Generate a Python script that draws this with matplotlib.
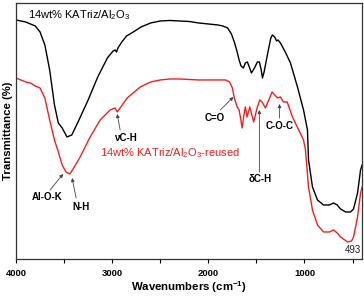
import matplotlib
matplotlib.use("Agg")
import matplotlib.pyplot as plt
from matplotlib.ticker import MultipleLocator, NullLocator

plt.rcParams['font.family'] = ['Liberation Sans', 'DejaVu Sans']
plt.rcParams['mathtext.fontset'] = 'custom'
plt.rcParams['mathtext.rm'] = 'Liberation Sans'
plt.rcParams['mathtext.it'] = 'Liberation Sans:italic'
plt.rcParams['mathtext.bf'] = 'Liberation Sans:bold'
plt.rcParams['mathtext.default'] = 'regular'

# Wavenumbers (cm-1) and transmittance (arbitrary, offset) for fresh catalyst
wn_fresh = [4000, 3900, 3800, 3750, 3700, 3650, 3600, 3560, 3520, 3470, 3420, 3350, 3250, 3150,
            3050, 2990, 2970, 2955, 2940, 2900, 2850, 2780, 2700, 2600, 2500, 2400, 2300, 2200,
            2100, 2000, 1900, 1850, 1800, 1760, 1730, 1700, 1680, 1660, 1635, 1615, 1594, 1570,
            1552, 1520, 1490, 1469, 1450, 1437, 1420, 1380, 1350, 1333, 1310, 1290, 1275, 1250,
            1200, 1146, 1073, 1010, 969, 958, 917, 865, 802, 740, 698, 660, 625, 573, 521, 490,
            448, 417, 400]
t_fresh = [95.6, 94.8, 93.2, 90.8, 85.6, 75.6, 61.6, 54.4, 52.4, 48.8, 49.6, 55.2, 63.6, 72.8,
           80.4, 83.2, 83.6, 82.8, 84.4, 86.8, 89.2, 90.8, 92.8, 94.4, 95.2, 95.4, 95.2, 95.0,
           94.4, 94.0, 93.6, 93.2, 92.4, 90.0, 86.8, 82.8, 79.6, 77.2, 76.4, 78.4, 78.8, 76.4,
           74.4, 76.4, 78.8, 78.8, 75.6, 72.4, 74.8, 82.8, 88.4, 89.6, 88.8, 87.2, 87.6, 86.4,
           82.8, 78.4, 68.8, 59.6, 51.6, 39.6, 28.8, 23.6, 21.6, 21.6, 22.4, 21.6, 20.0, 18.8,
           18.8, 20.0, 26.4, 35.6, 37.6]

# Reused catalyst
wn_reused = [4000, 3900, 3850, 3800, 3750, 3700, 3650, 3600, 3560, 3520, 3480, 3440, 3400, 3333,
             3229, 3125, 3021, 2969, 2948, 2917, 2844, 2708, 2600, 2500, 2400, 2300, 2200, 2100,
             2000, 1900, 1820, 1780, 1750, 1730, 1700, 1680, 1665, 1649, 1630, 1615, 1597, 1569,
             1528, 1493, 1465, 1441, 1406, 1337, 1300, 1280, 1250, 1220, 1180, 1125, 1060, 1010,
             990, 958, 917, 865, 802, 740, 698, 660, 625, 552, 510, 490, 448, 417, 400]
t_reused = [72.4, 70.8, 70.4, 69.2, 68.4, 64.4, 55.6, 47.6, 42.8, 37.6, 34.8, 34.0, 36.4, 40.8,
            48.8, 55.6, 59.6, 60.4, 58.8, 60.4, 64.4, 68.8, 70.8, 71.6, 72.0, 72.0, 71.8, 71.6,
            71.6, 71.6, 71.6, 70.8, 68.4, 64.4, 60.8, 59.6, 56.4, 52.4, 57.6, 60.8, 56.8, 60.8,
            54.8, 60.4, 63.6, 62.8, 60.4, 66.8, 65.2, 64.4, 64.8, 62.8, 62.8, 56.8, 51.6, 47.6,
            43.6, 28.8, 19.6, 13.6, 10.8, 10.8, 11.6, 10.4, 8.8, 6.8, 7.2, 8.8, 16.8, 26.4, 28.8]

label_fresh = "14wt% KATriz/Al$_2$O$_3$"
label_reused = "14wt% KATriz/Al$_2$O$_3$-reused"
x_ticks = [4000, 3000, 2000, 1000]

fig = plt.figure(figsize=(3.64, 2.98), dpi=100)
ax = fig.add_axes([0.044, 0.131, 0.951, 0.859])

ax.plot(wn_fresh, t_fresh, color='black', lw=1.0)
ax.plot(wn_reused, t_reused, color='#ff1a1a', lw=1.0)

ax.set_xlim(4000, 400)
ax.set_ylim(0, 102.4)
ax.set_xticks(x_ticks)
ax.set_xticklabels([str(v) for v in x_ticks], fontweight='bold', fontsize=6.8)
ax.xaxis.set_minor_locator(MultipleLocator(500))
ax.yaxis.set_major_locator(NullLocator())
ax.tick_params(axis='x', which='both', direction='out', length=3, width=0.8, pad=4)
for s in ax.spines.values():
    s.set_linewidth(0.9)
    s.set_color('#333333')

ax.set_xlabel("Wavenumbers (cm$^{-1}$)", fontweight='bold', fontsize=8.2, labelpad=1)
ax.set_ylabel("Transmittance (%)", fontweight='bold', fontsize=8.2, labelpad=2)

ax.text(3875, 97.6, label_fresh, fontsize=8, color='black', ha='left', va='center')
ax.text(3125, 42.4, label_reused, fontsize=8, color='#ff1a1a', ha='left', va='center')

ann_kw = dict(fontsize=7, fontweight='bold', ha='center', va='center', color='black')
arrow = dict(arrowstyle='-|>', color='#444444', lw=0.6, mutation_scale=5, shrinkA=0, shrinkB=0)

ax.text(2865, 48.4, "\u03bdC-H", **ann_kw)
ax.annotate("", xy=(2948, 58.0), xytext=(2917, 51.6), arrowprops=arrow)
ax.text(1937, 56.4, "C=O", **ann_kw)
ax.annotate("", xy=(1740, 64.8), xytext=(1875, 59.6), arrowprops=arrow)
ax.text(1260, 53.2, "C-O-C", **ann_kw)
ax.annotate("", xy=(1260, 62.0), xytext=(1260, 56.4), arrowprops=arrow)
ax.text(1458, 32.0, "\u03b4C-H", **ann_kw)
ax.annotate("", xy=(1469, 59.6), xytext=(1469, 34.8), arrowprops=arrow)
ax.text(3677, 24.8, "Al-O-K", **ann_kw)
ax.annotate("", xy=(3510, 34.0), xytext=(3646, 27.6), arrowprops=arrow)
ax.text(3323, 20.8, "N-H", **ann_kw)
ax.annotate("", xy=(3417, 32.4), xytext=(3375, 24.4), arrowprops=arrow)
ax.text(500, 3.6, "493", fontsize=7, ha='center', va='center', color='#222222')

fig.savefig("out.png", dpi=100)
